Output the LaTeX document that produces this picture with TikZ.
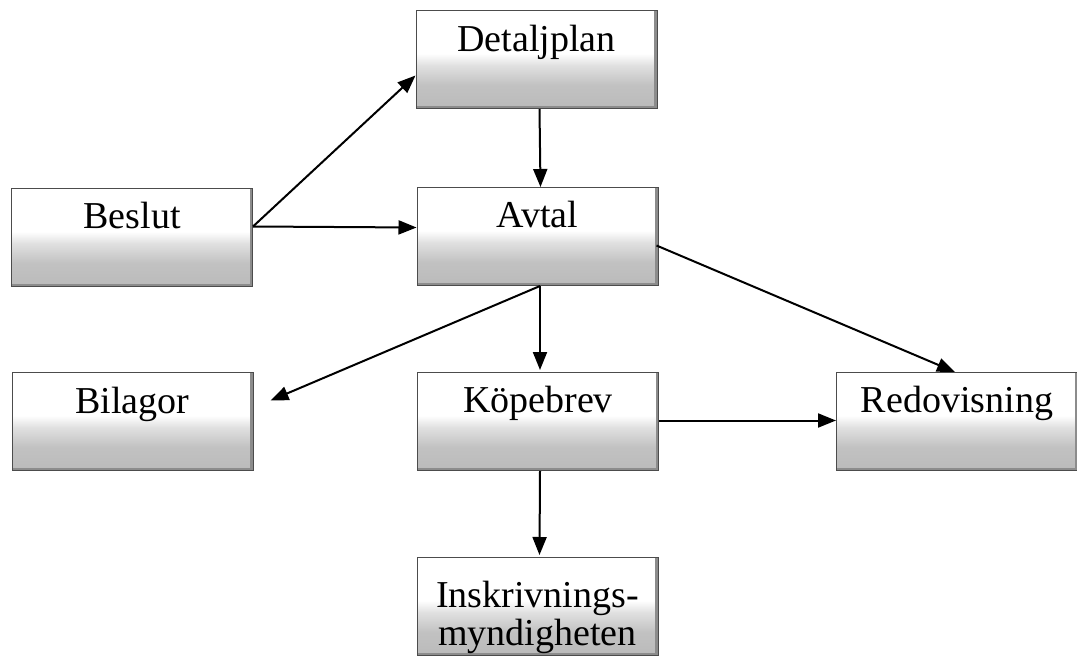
\documentclass[tikz,border=0pt]{standalone}
\usepackage{fontspec}
\setmainfont{Liberation Serif}
\usetikzlibrary{arrows.meta,calc}
\pgfdeclareverticalshading{boxgrad}{100bp}{color(0bp)=(black!27); color(25bp)=(black!27); color(37bp)=(black!24); color(47bp)=(black!12); color(53bp)=(white); color(75bp)=(white); color(100bp)=(white)}
\tikzset{
  box/.style={rectangle, minimum width=241pt, minimum height=98pt, inner sep=0pt,
    shading=boxgrad, draw=black!70, line width=1pt,
    path picture={\draw[line width=6pt, black!45]
      (path picture bounding box.north east) -- (path picture bounding box.south east)
      -- (path picture bounding box.south west);}},
  lbl/.style={font=\fontsize{38}{38}\selectfont, inner sep=0pt, anchor=base, align=center},
  conn/.style={line width=2pt, -{Triangle[length=18pt,width=14pt]}}
}
\begin{document}
\begin{tikzpicture}[x=1pt,y=1pt]
\useasboundingbox (0,0) rectangle (1077,-656);
% boxes (anchor north = top edge)
\node[box, anchor=north] (detalj) at (536.5,-10) {};
\node[box, anchor=north] (beslut) at (132,-188) {};
\node[box, anchor=north] (avtal) at (537.5,-187) {};
\node[box, anchor=north] (bilagor) at (132.5,-372) {};
\node[box, anchor=north] (kop) at (538,-372) {};
\node[box, anchor=north] (redo) at (957,-372) {};
\node[box, anchor=north] (inskr) at (537.5,-557) {};
% labels
\node[lbl] (detalj-t) at ($(detalj.north)+(0,-41)$) {Detaljplan};
\node[lbl] (beslut-t) at ($(beslut.north)+(0,-40)$) {Beslut};
\node[lbl] (avtal-t) at ($(avtal.north)+(0,-40)$) {Avtal};
\node[lbl] (bilagor-t) at ($(bilagor.north)+(0,-41)$) {Bilagor};
\node[lbl] (kop-t) at ($(kop.north)+(0,-40)$) {Köpebrev};
\node[lbl] (redo-t) at ($(redo.north)+(0,-40)$) {Redovisning};
\node[lbl, anchor=north] (inskr-t) at ($(inskr.north)+(0,-24)$) {Inskrivnings-\\myndigheten};
% connectors
\coordinate (bout) at ($(beslut.east)+(0,11)$);
\draw[conn] (bout) -- ($(detalj.west)+(0,-16)$);
\draw[conn] (bout) -- ($(avtal.west)+(0,9)$);
\draw[conn] ($(detalj.south)+(3,0)$) -- ($(avtal.north)+(3,0)$);
\coordinate (aout) at ($(avtal.south)+(2.5,0)$);
\draw[conn] (aout) -- ($(kop.north)+(2,2)$);
\draw[conn] (aout) -- ($(bilagor.east)+(17,21)$);
\draw[conn] ($(avtal.east)+(-2,-9)$) -- ($(redo.north)+(-2,0)$);
\draw[conn] ($(kop.east)+(0,1)$) -- ($(redo.west)+(0,1)$);
\draw[conn] ($(kop.south)+(2,0)$) -- ($(inskr.north)+(2,2)$);
\end{tikzpicture}
\end{document}
